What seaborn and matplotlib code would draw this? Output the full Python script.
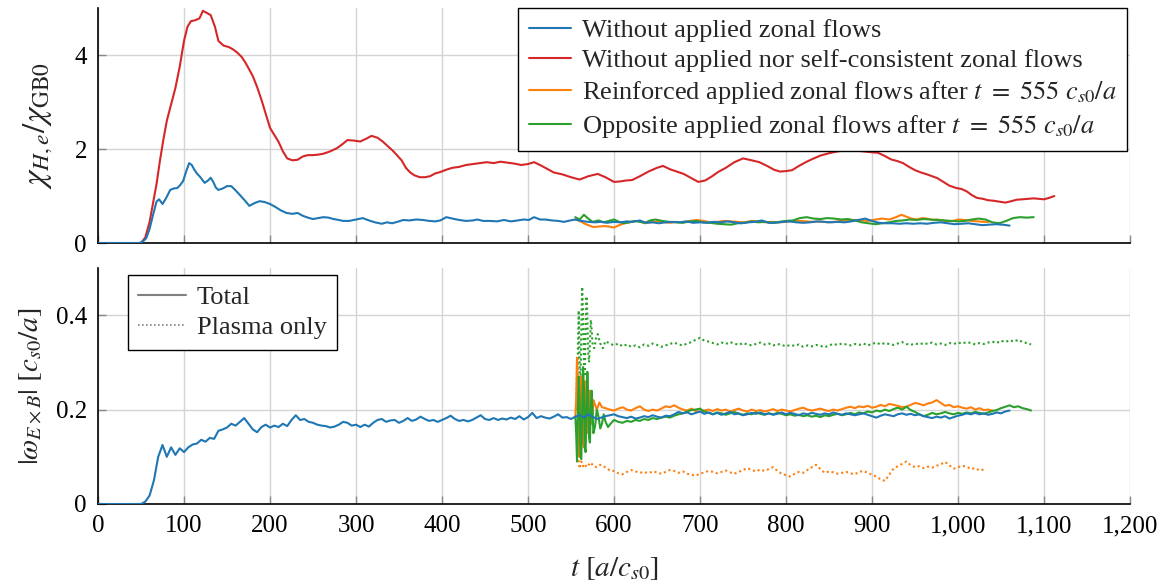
import numpy as np
import seaborn as sns
import matplotlib.pyplot as plt
from matplotlib.lines import Line2D

# ---------------- data ----------------
# top panel: chi_H,e / chi_GB0, (t, value) pairs
chi_red = [(0, 0), (50, 0), (55, 0.12), (60, 0.45), (64, 0.85), (68, 1.25), (72, 1.75), (76, 2.2),
           (80, 2.6), (85, 2.95), (90, 3.3), (95, 3.75), (100, 4.3), (104, 4.6), (108, 4.72),
           (113, 4.74), (118, 4.78), (122, 4.94), (126, 4.9), (131, 4.85), (136, 4.6), (140, 4.3),
           (146, 4.2), (152, 4.17), (157, 4.12), (162, 4.05), (167, 3.96), (171, 3.85), (175, 3.72),
           (180, 3.55), (185, 3.32), (190, 3.05), (195, 2.75), (200, 2.45), (205, 2.3), (210, 2.15),
           (215, 1.95), (220, 1.8), (226, 1.76), (232, 1.77), (238, 1.84), (244, 1.87), (250, 1.87),
           (256, 1.88), (262, 1.9), (270, 1.95), (278, 2.02), (284, 2.1), (290, 2.19), (297, 2.18),
           (305, 2.16), (312, 2.22), (318, 2.28), (325, 2.24), (331, 2.16), (337, 2.06), (343, 1.96),
           (348, 1.86), (353, 1.76), (358, 1.6), (363, 1.5), (368, 1.44), (374, 1.4), (380, 1.4),
           (386, 1.42), (392, 1.48), (398, 1.51), (405, 1.56), (412, 1.6), (420, 1.62), (428, 1.66),
           (436, 1.68), (444, 1.7), (452, 1.72), (460, 1.7), (468, 1.73), (476, 1.71), (484, 1.69),
           (492, 1.66), (500, 1.68), (507, 1.72), (515, 1.65), (522, 1.58), (530, 1.5), (540, 1.46),
           (550, 1.4), (560, 1.35), (570, 1.42), (581, 1.47), (590, 1.4), (600, 1.3), (607, 1.31),
           (614, 1.33), (621, 1.34), (630, 1.42), (640, 1.52), (650, 1.6), (657, 1.64), (665, 1.57),
           (673, 1.52), (681, 1.47), (690, 1.38), (698, 1.3), (706, 1.33), (714, 1.42), (721, 1.51),
           (730, 1.6), (740, 1.72), (750, 1.8), (760, 1.76), (769, 1.72), (778, 1.64), (786, 1.56),
           (793, 1.52), (800, 1.53), (807, 1.55), (815, 1.64), (823, 1.72), (831, 1.79), (840, 1.86),
           (850, 1.91), (860, 1.95), (870, 1.97), (880, 1.97), (890, 1.95), (900, 1.93), (907, 1.92),
           (915, 1.85), (922, 1.78), (930, 1.74), (936, 1.7), (943, 1.62), (950, 1.55), (957, 1.5),
           (964, 1.46), (970, 1.42), (976, 1.38), (983, 1.3), (990, 1.22), (998, 1.17), (1004, 1.15),
           (1010, 1.1), (1016, 1.02), (1022, 0.96), (1029, 0.94), (1035, 0.91), (1041, 0.9),
           (1048, 0.88), (1055, 0.86), (1062, 0.89), (1068, 0.92), (1075, 0.93), (1082, 0.94),
           (1088, 0.95), (1094, 0.94), (1100, 0.93), (1106, 0.96), (1112, 1.0)]

chi_blue = [(0, 0), (48, 0), (52, 0.03), (56, 0.1), (60, 0.3), (64, 0.6), (68, 0.88), (71, 0.93),
            (75, 0.83), (79, 0.95), (84, 1.13), (88, 1.16), (92, 1.17), (95, 1.22), (99, 1.32),
            (103, 1.55), (106, 1.7), (109, 1.66), (112, 1.56), (115, 1.48), (119, 1.4), (124, 1.28),
            (128, 1.33), (131, 1.39), (134, 1.3), (137, 1.18), (140, 1.13), (145, 1.16), (150, 1.21),
            (155, 1.21), (160, 1.12), (165, 1.02), (170, 0.92), (176, 0.79), (182, 0.85), (188, 0.89),
            (194, 0.87), (200, 0.83), (206, 0.77), (212, 0.7), (219, 0.64), (226, 0.62), (232, 0.64),
            (238, 0.58), (244, 0.54), (250, 0.51), (256, 0.53), (262, 0.55), (268, 0.54), (274, 0.51),
            (280, 0.49), (285, 0.47), (292, 0.47), (300, 0.5), (308, 0.53), (315, 0.48), (322, 0.44),
            (330, 0.41), (336, 0.44), (342, 0.42), (348, 0.45), (355, 0.49), (362, 0.48), (370, 0.5),
            (378, 0.49), (385, 0.47), (392, 0.46), (398, 0.48), (405, 0.55), (412, 0.52), (420, 0.49),
            (428, 0.47), (436, 0.48), (441, 0.5), (448, 0.47), (456, 0.47), (464, 0.46), (472, 0.49),
            (480, 0.46), (488, 0.48), (495, 0.5), (501, 0.49), (507, 0.55), (514, 0.5), (520, 0.5),
            (528, 0.48), (535, 0.47), (542, 0.45), (549, 0.48), (555, 0.5), (562, 0.47), (570, 0.45),
            (578, 0.44), (585, 0.45), (592, 0.43), (600, 0.45), (608, 0.44), (615, 0.46), (622, 0.45),
            (630, 0.48), (637, 0.43), (645, 0.44), (652, 0.42), (660, 0.44), (668, 0.45), (676, 0.44),
            (684, 0.46), (692, 0.43), (700, 0.44), (708, 0.43), (716, 0.45), (724, 0.44), (732, 0.46),
            (740, 0.44), (748, 0.42), (756, 0.44), (764, 0.45), (772, 0.48), (780, 0.43), (788, 0.43),
            (796, 0.45), (804, 0.46), (812, 0.44), (820, 0.43), (828, 0.44), (836, 0.46), (844, 0.45),
            (852, 0.44), (860, 0.45), (868, 0.44), (876, 0.46), (884, 0.49), (892, 0.52), (900, 0.47),
            (908, 0.43), (916, 0.42), (924, 0.42), (932, 0.41), (940, 0.42), (948, 0.41), (956, 0.42),
            (964, 0.41), (972, 0.43), (980, 0.44), (988, 0.42), (996, 0.4), (1004, 0.41), (1012, 0.42),
            (1020, 0.4), (1028, 0.38), (1036, 0.39), (1044, 0.4), (1052, 0.39), (1060, 0.37)]

chi_orange = [(555, 0.5), (560, 0.47), (565, 0.42), (570, 0.38), (576, 0.34), (582, 0.35), (588, 0.36),
              (594, 0.35), (600, 0.33), (606, 0.38), (612, 0.42), (618, 0.44), (624, 0.47), (630, 0.46),
              (636, 0.42), (642, 0.44), (648, 0.45), (654, 0.47), (660, 0.44), (666, 0.43), (672, 0.45),
              (680, 0.44), (688, 0.47), (696, 0.49), (704, 0.47), (712, 0.44), (720, 0.45), (728, 0.47),
              (736, 0.46), (744, 0.45), (752, 0.44), (760, 0.47), (768, 0.46), (776, 0.44), (784, 0.45),
              (792, 0.44), (800, 0.45), (808, 0.47), (816, 0.47), (824, 0.46), (832, 0.45), (840, 0.46),
              (848, 0.44), (856, 0.45), (864, 0.47), (872, 0.48), (880, 0.49), (888, 0.48), (896, 0.47),
              (904, 0.5), (912, 0.52), (920, 0.5), (928, 0.55), (934, 0.6), (940, 0.56), (946, 0.52),
              (952, 0.5), (958, 0.53), (964, 0.52), (970, 0.49), (976, 0.5), (982, 0.48), (988, 0.46),
              (994, 0.47), (1000, 0.5), (1008, 0.49), (1016, 0.47), (1024, 0.46), (1030, 0.45), (1036, 0.45)]

chi_green = [(555, 0.55), (560, 0.5), (565, 0.6), (570, 0.52), (575, 0.45), (582, 0.48), (588, 0.44),
             (594, 0.47), (600, 0.5), (606, 0.45), (612, 0.42), (618, 0.44), (624, 0.47), (630, 0.45),
             (636, 0.43), (642, 0.48), (648, 0.5), (656, 0.47), (664, 0.45), (672, 0.44), (680, 0.43),
             (688, 0.46), (696, 0.47), (704, 0.44), (712, 0.43), (720, 0.41), (728, 0.4), (736, 0.39),
             (744, 0.42), (752, 0.43), (760, 0.46), (768, 0.44), (776, 0.45), (784, 0.43), (792, 0.45),
             (800, 0.47), (808, 0.48), (816, 0.53), (824, 0.55), (832, 0.52), (840, 0.51), (848, 0.53),
             (856, 0.52), (864, 0.5), (872, 0.51), (880, 0.48), (888, 0.44), (896, 0.42), (904, 0.4),
             (912, 0.42), (920, 0.44), (928, 0.47), (936, 0.48), (944, 0.5), (952, 0.49), (960, 0.51),
             (968, 0.5), (976, 0.49), (984, 0.48), (992, 0.47), (1000, 0.46), (1008, 0.47), (1016, 0.5),
             (1024, 0.52), (1032, 0.5), (1040, 0.44), (1048, 0.42), (1056, 0.47), (1064, 0.53),
             (1072, 0.55), (1080, 0.54), (1088, 0.55)]

# bottom panel: |omega_ExB| [c_s0/a]
# blue, sampled every 5 time units from t = 50 to 1060
wexb_blue = [0.0, 0.005, 0.018, 0.05, 0.1, 0.125, 0.1, 0.12, 0.104, 0.118,
             0.11, 0.12, 0.126, 0.128, 0.136, 0.132, 0.14, 0.138, 0.155, 0.158,
             0.162, 0.17, 0.166, 0.174, 0.182, 0.17, 0.158, 0.152, 0.163, 0.168,
             0.162, 0.166, 0.163, 0.17, 0.165, 0.178, 0.188, 0.178, 0.18, 0.174,
             0.172, 0.168, 0.166, 0.165, 0.162, 0.164, 0.168, 0.174, 0.172, 0.166,
             0.168, 0.163, 0.168, 0.164, 0.172, 0.178, 0.18, 0.174, 0.177, 0.178,
             0.172, 0.176, 0.182, 0.176, 0.179, 0.185, 0.18, 0.176, 0.178, 0.174,
             0.178, 0.182, 0.187, 0.18, 0.176, 0.178, 0.175, 0.178, 0.183, 0.188,
             0.18, 0.178, 0.182, 0.178, 0.181, 0.179, 0.183, 0.18, 0.186, 0.179,
             0.184, 0.193, 0.182, 0.186, 0.183, 0.181, 0.185, 0.19, 0.183, 0.184,
             0.18, 0.185, 0.188, 0.183, 0.19, 0.185, 0.18, 0.183, 0.186, 0.188,
             0.19, 0.186, 0.184, 0.182, 0.185, 0.181, 0.183, 0.186, 0.184, 0.188,
             0.185, 0.183, 0.187, 0.186, 0.19, 0.195, 0.192, 0.194, 0.19, 0.193,
             0.196, 0.191, 0.194, 0.19, 0.193, 0.189, 0.192, 0.195, 0.19, 0.192,
             0.188, 0.19, 0.193, 0.191, 0.194, 0.19, 0.192, 0.189, 0.191, 0.194,
             0.19, 0.193, 0.191, 0.188, 0.192, 0.19, 0.193, 0.191, 0.189, 0.192,
             0.19, 0.194, 0.191, 0.189, 0.192, 0.19, 0.188, 0.19, 0.192, 0.189,
             0.186, 0.183, 0.187, 0.19, 0.188, 0.186, 0.19, 0.192, 0.189, 0.191,
             0.188, 0.19, 0.186, 0.184, 0.182, 0.185, 0.183, 0.186, 0.181, 0.184,
             0.187, 0.189, 0.192, 0.19, 0.193, 0.19, 0.192, 0.189, 0.191, 0.194,
             0.192, 0.196, 0.198]

# start-up burst right after the zonal flows are applied (t = 555)
burst_t_orange = [555, 556, 557, 558, 559, 560, 561, 562, 563, 564, 565, 566, 567, 568, 569, 570,
                  571, 572, 573, 574, 575, 576, 578, 580, 583, 586, 590, 595]
burst_orange = [0.185, 0.22, 0.31, 0.24, 0.12, 0.1, 0.19, 0.27, 0.24, 0.13, 0.12, 0.22, 0.26, 0.19,
                0.15, 0.17, 0.23, 0.24, 0.2, 0.17, 0.19, 0.22, 0.21, 0.2, 0.215, 0.205, 0.203, 0.2]
burst_t_green = [555, 556, 557, 558, 559, 560, 561, 562, 563, 564, 565, 566, 567, 568, 569, 570,
                 571, 572, 573, 574, 575, 576, 578, 580, 582, 584, 586, 588, 590, 593, 596]
burst_green = [0.185, 0.15, 0.09, 0.2, 0.27, 0.22, 0.1, 0.095, 0.2, 0.29, 0.25, 0.12, 0.11, 0.21,
               0.28, 0.23, 0.14, 0.13, 0.2, 0.24, 0.2, 0.15, 0.165, 0.2, 0.185, 0.16, 0.17, 0.19,
               0.175, 0.163, 0.17]
burst_t_orange_pl = [556, 557, 558, 559, 560, 561, 562, 564, 566, 568, 570, 573, 576, 580, 584, 588,
                     592, 596]
burst_orange_pl = [0.2, 0.3, 0.2, 0.09, 0.075, 0.085, 0.09, 0.08, 0.085, 0.078, 0.082, 0.088, 0.08,
                   0.078, 0.083, 0.08, 0.075, 0.07]
burst_t_green_pl = [557, 558, 559, 560, 561, 562, 563, 564, 565, 566, 567, 568, 569, 570, 571, 572,
                    573, 574, 575, 577, 579, 581, 584, 587, 590, 595]
burst_green_pl = [0.2, 0.33, 0.41, 0.3, 0.25, 0.38, 0.46, 0.4, 0.3, 0.27, 0.37, 0.44, 0.4, 0.32,
                  0.3, 0.34, 0.39, 0.37, 0.34, 0.33, 0.35, 0.36, 0.34, 0.33, 0.345, 0.34]

# after the burst, every 5 time units from t = 600
wexb_orange = [0.198, 0.202, 0.205, 0.2, 0.198, 0.203, 0.207, 0.2, 0.197, 0.2,
               0.198, 0.202, 0.207, 0.205, 0.209, 0.204, 0.2, 0.198, 0.202, 0.197,
               0.195, 0.198, 0.2, 0.197, 0.201, 0.198, 0.2, 0.196, 0.199, 0.202,
               0.198, 0.196, 0.2, 0.197, 0.199, 0.196, 0.198, 0.201, 0.197, 0.2,
               0.198, 0.196, 0.199, 0.202, 0.204, 0.2, 0.198, 0.2, 0.202, 0.199,
               0.197, 0.2, 0.198, 0.201, 0.204, 0.206, 0.203, 0.207, 0.205, 0.208,
               0.204, 0.206, 0.21, 0.207, 0.212, 0.21, 0.208, 0.205, 0.206, 0.21,
               0.214, 0.212, 0.209, 0.213, 0.215, 0.22, 0.214, 0.208, 0.21, 0.205,
               0.207, 0.204, 0.202, 0.205, 0.2, 0.203, 0.199, 0.2, 0.198]
wexb_green = [0.178, 0.174, 0.172, 0.176, 0.174, 0.178, 0.176, 0.18, 0.178, 0.182,
              0.18, 0.183, 0.185, 0.183, 0.187, 0.19, 0.192, 0.196, 0.199, 0.2,
              0.202, 0.196, 0.193, 0.19, 0.194, 0.192, 0.189, 0.192, 0.195, 0.191,
              0.189, 0.192, 0.19, 0.194, 0.191, 0.189, 0.192, 0.19, 0.193, 0.191,
              0.188, 0.19, 0.187, 0.189, 0.186, 0.188, 0.185, 0.187, 0.184, 0.188,
              0.186, 0.189, 0.191, 0.188, 0.19, 0.193, 0.19, 0.194, 0.192, 0.196,
              0.194, 0.198, 0.196, 0.2, 0.197, 0.201, 0.204, 0.2, 0.206, 0.199,
              0.195, 0.19, 0.186, 0.189, 0.193, 0.19, 0.192, 0.195, 0.192, 0.19,
              0.193, 0.191, 0.194, 0.192, 0.195, 0.193, 0.191, 0.194, 0.197, 0.199,
              0.203, 0.206, 0.209, 0.205, 0.207, 0.203, 0.201, 0.198]
wexb_orange_pl = [0.07, 0.065, 0.063, 0.068, 0.072, 0.069, 0.066, 0.068, 0.065, 0.069,
                  0.067, 0.064, 0.068, 0.072, 0.07, 0.066, 0.069, 0.064, 0.062, 0.06,
                  0.064, 0.067, 0.07, 0.068, 0.065, 0.068, 0.071, 0.067, 0.064, 0.068,
                  0.072, 0.076, 0.072, 0.069, 0.073, 0.07, 0.074, 0.078, 0.07, 0.064,
                  0.061, 0.058, 0.064, 0.068, 0.066, 0.072, 0.078, 0.083, 0.074, 0.066,
                  0.069, 0.067, 0.064, 0.066, 0.068, 0.065, 0.063, 0.068, 0.07, 0.066,
                  0.062, 0.058, 0.052, 0.049, 0.062, 0.075, 0.08, 0.085, 0.09, 0.082,
                  0.078, 0.08, 0.076, 0.079, 0.077, 0.081, 0.084, 0.089, 0.082, 0.075,
                  0.078, 0.081, 0.079, 0.074, 0.076, 0.071, 0.073]
wexb_green_pl = [0.336, 0.34, 0.334, 0.338, 0.333, 0.336, 0.332, 0.338, 0.335, 0.34,
                 0.337, 0.333, 0.336, 0.339, 0.342, 0.338, 0.336, 0.34, 0.343, 0.348,
                 0.352, 0.346, 0.344, 0.341, 0.338, 0.342, 0.339, 0.343, 0.34, 0.337,
                 0.341, 0.338, 0.336, 0.339, 0.342, 0.338, 0.34, 0.336, 0.339, 0.337,
                 0.334, 0.337, 0.335, 0.338, 0.333, 0.336, 0.334, 0.337, 0.335, 0.332,
                 0.336, 0.339, 0.337, 0.34, 0.338, 0.336, 0.339, 0.337, 0.34, 0.336,
                 0.339, 0.342, 0.338, 0.341, 0.339, 0.337, 0.34, 0.343, 0.339, 0.337,
                 0.34, 0.338, 0.341, 0.339, 0.342, 0.338, 0.34, 0.337, 0.341, 0.339,
                 0.342, 0.34, 0.343, 0.341, 0.338, 0.341, 0.339, 0.342, 0.344, 0.341,
                 0.346, 0.343, 0.347, 0.344, 0.348, 0.343, 0.341, 0.338]

labels = ['Without applied zonal flows',
          'Without applied nor self-consistent zonal flows',
          r'Reinforced applied zonal flows after $t\ =\ 555\ c_{s0}/a$',
          r'Opposite applied zonal flows after $t\ =\ 555\ c_{s0}/a$']
x_ticks = [0, 100, 200, 300, 400, 500, 600, 700, 800, 900, 1000, 1100, 1200]
x_ticklabels = ['0', '100', '200', '300', '400', '500', '600', '700', '800', '900',
                '1,000', '1,100', '1,200']

BLUE, RED, ORANGE, GREEN = '#1f77b4', '#d62728', '#ff7f0e', '#2ca02c'
DOT = (0, (1, 1.4))

# ---------------- build the time axes ----------------
def pairs(p):
    a = np.array(p, dtype=float)
    return a[:, 0], a[:, 1]

t_blue = np.concatenate([[0, 45], np.arange(50, 1061, 5)])
w_blue = np.concatenate([[0, 0], wexb_blue])
t_or = np.concatenate([burst_t_orange, np.arange(600, 1041, 5)])
w_or = np.concatenate([burst_orange, wexb_orange])
t_gr = np.concatenate([burst_t_green, np.arange(600, 1086, 5)])
w_gr = np.concatenate([burst_green, wexb_green])
t_or_pl = np.concatenate([burst_t_orange_pl, np.arange(600, 1031, 5)])
w_or_pl = np.concatenate([burst_orange_pl, wexb_orange_pl])
t_gr_pl = np.concatenate([burst_t_green_pl, np.arange(600, 1086, 5)])
w_gr_pl = np.concatenate([burst_green_pl, wexb_green_pl])

# ---------------- style ----------------
sns.set_theme(style='whitegrid')
plt.rcParams['font.family'] = ['Liberation Serif', 'DejaVu Serif']
plt.rcParams['mathtext.fontset'] = 'stix'
plt.rcParams['axes.edgecolor'] = 'black'

fig = plt.figure(figsize=(11.64, 5.85), dpi=100)
ax1 = fig.add_axes([0.0842, 0.5846, 0.8866, 0.4017])
ax2 = fig.add_axes([0.0842, 0.1385, 0.8866, 0.4034])

lw = 1.5
kw = dict(estimator=None, sort=False, legend=False, linewidth=lw)

# top panel
x, y = pairs(chi_red)
sns.lineplot(x=x, y=y, ax=ax1, color=RED, zorder=2, **kw)
x, y = pairs(chi_orange)
sns.lineplot(x=x, y=y, ax=ax1, color=ORANGE, zorder=3, **kw)
x, y = pairs(chi_green)
sns.lineplot(x=x, y=y, ax=ax1, color=GREEN, zorder=3, **kw)
x, y = pairs(chi_blue)
sns.lineplot(x=x, y=y, ax=ax1, color=BLUE, zorder=4, **kw)

# bottom panel
sns.lineplot(x=t_or_pl, y=w_or_pl, ax=ax2, color=ORANGE, linestyle=DOT, zorder=2, **kw)
sns.lineplot(x=t_gr_pl, y=w_gr_pl, ax=ax2, color=GREEN, linestyle=DOT, zorder=2, **kw)
sns.lineplot(x=t_or, y=w_or, ax=ax2, color=ORANGE, zorder=3, **kw)
sns.lineplot(x=t_gr, y=w_gr, ax=ax2, color=GREEN, zorder=3, **kw)
sns.lineplot(x=t_blue, y=w_blue, ax=ax2, color=BLUE, zorder=4, **kw)

FS_TICK = 18
FS_LEG = 19
for ax in (ax1, ax2):
    ax.set_xlim(0, 1200)
    ax.set_xticks(x_ticks)
    ax.grid(True, color='#d4d4d4', linewidth=1.0)
    for s in ('top', 'right'):
        ax.spines[s].set_visible(False)
    for s in ('left', 'bottom'):
        ax.spines[s].set_color('black')
        ax.spines[s].set_linewidth(1.2)
    ax.tick_params(direction='in', length=6, width=1, color='#888888', pad=8,
                   labelsize=FS_TICK, labelcolor='black', bottom=True, left=True)
    ax.set_xlabel('')

ax1.set_ylim(0, 5)
ax1.set_yticks([0, 2, 4])
ax1.set_yticklabels(['0', '2', '4'])
ax1.tick_params(labelbottom=False)
ax1.set_ylabel(r'$\chi_{H,e}/\chi_{\mathrm{GB0}}$', fontsize=24, labelpad=14)

ax2.set_ylim(0, 0.5)
ax2.set_yticks([0, 0.2, 0.4])
ax2.set_yticklabels(['0', '0.2', '0.4'])
ax2.set_xticklabels(x_ticklabels)
ax2.set_ylabel(r'$|\omega_{E\times B}|\ [c_{s0}/a]$', fontsize=21, labelpad=8)
ax2.set_xlabel(r'$t\ [a/c_{s0}]$', fontsize=21, labelpad=13)

handles = [Line2D([], [], color=c, lw=lw) for c in (BLUE, RED, ORANGE, GREEN)]
leg1 = ax1.legend(handles, labels, loc='upper right', bbox_to_anchor=(0.997, 1.0),
                  borderaxespad=0, fontsize=FS_LEG, frameon=True, fancybox=False,
                  edgecolor='black', framealpha=1, handlelength=1.6, handletextpad=0.4,
                  labelspacing=0.26, borderpad=0.4)
leg1.get_frame().set_linewidth(1.0)

h2 = [Line2D([], [], color='#808080', lw=lw),
      Line2D([], [], color='#808080', lw=1.2, linestyle=DOT)]
leg2 = ax2.legend(h2, ['Total', 'Plasma only'], loc='upper left',
                  bbox_to_anchor=(0.029, 0.97), borderaxespad=0, fontsize=FS_LEG,
                  frameon=True, fancybox=False, edgecolor='black', framealpha=1,
                  handlelength=1.8, handletextpad=0.4, labelspacing=0.26, borderpad=0.4)
leg2.get_frame().set_linewidth(1.0)

fig.savefig('out.png', dpi=100)
